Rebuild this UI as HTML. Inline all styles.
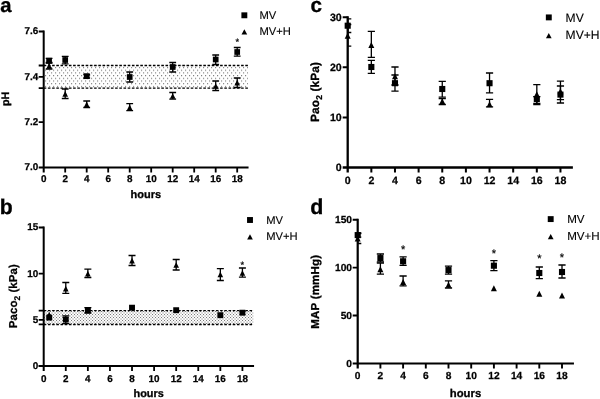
<!DOCTYPE html>
<html lang="en">
<head>
<meta charset="utf-8">
<title>Figure</title>
<style>
html,body{margin:0;padding:0;background:#fff;}
body{width:600px;height:399px;overflow:hidden;}
svg{display:block;will-change:transform;text-rendering:geometricPrecision;font-family:"Liberation Sans", Arial, sans-serif;fill:#000;}
</style>
</head>
<body>
<svg width="600" height="399" viewBox="0 0 600 399">
<rect width="600" height="399" fill="#fff"/>
<defs>
<pattern id="pa" width="4" height="5.4" patternUnits="userSpaceOnUse" x="43" y="66.95"><rect x="0" y="0" width="1.15" height="1.15" fill="#808080"/><rect x="2" y="2.7" width="1.15" height="1.15" fill="#808080"/></pattern>
<pattern id="pb" width="3" height="3" patternUnits="userSpaceOnUse" x="44" y="311"><rect x="0" y="0" width="1.05" height="1.05" fill="#7a7a7a"/><rect x="1.5" y="1.5" width="1.05" height="1.05" fill="#7a7a7a"/></pattern>
</defs>
<rect x="43.70" y="65.50" width="204.25" height="22.67" fill="url(#pa)"/>
<path d="M43.70 65.50H247.95M43.70 88.17H247.95" stroke="#000" stroke-width="1.4" stroke-dasharray="2.6 1.6" fill="none"/>
<path d="M43.70 30.60V172.50M38.70 167.50H248.55" stroke="#000" stroke-width="2.0" fill="none"/>
<path d="M65.20 167.50v5.0M86.70 167.50v5.0M108.20 167.50v5.0M129.70 167.50v5.0M151.20 167.50v5.0M172.70 167.50v5.0M194.20 167.50v5.0M215.70 167.50v5.0M237.20 167.50v5.0M43.70 122.17h-5.0M43.70 76.83h-5.0M43.70 31.50h-5.0M43.70 65.50h-5.0M43.70 88.17h-5.0" stroke="#000" stroke-width="1.8" fill="none"/>
<text x="43.70" y="181.50" font-size="9.9" font-weight="bold" text-anchor="middle" stroke="#000" stroke-width="0.25" >0</text>
<text x="65.20" y="181.50" font-size="9.9" font-weight="bold" text-anchor="middle" stroke="#000" stroke-width="0.25" >2</text>
<text x="86.70" y="181.50" font-size="9.9" font-weight="bold" text-anchor="middle" stroke="#000" stroke-width="0.25" >4</text>
<text x="108.20" y="181.50" font-size="9.9" font-weight="bold" text-anchor="middle" stroke="#000" stroke-width="0.25" >6</text>
<text x="129.70" y="181.50" font-size="9.9" font-weight="bold" text-anchor="middle" stroke="#000" stroke-width="0.25" >8</text>
<text x="151.20" y="181.50" font-size="9.9" font-weight="bold" text-anchor="middle" stroke="#000" stroke-width="0.25" >10</text>
<text x="172.70" y="181.50" font-size="9.9" font-weight="bold" text-anchor="middle" stroke="#000" stroke-width="0.25" >12</text>
<text x="194.20" y="181.50" font-size="9.9" font-weight="bold" text-anchor="middle" stroke="#000" stroke-width="0.25" >14</text>
<text x="215.70" y="181.50" font-size="9.9" font-weight="bold" text-anchor="middle" stroke="#000" stroke-width="0.25" >16</text>
<text x="237.20" y="181.50" font-size="9.9" font-weight="bold" text-anchor="middle" stroke="#000" stroke-width="0.25" >18</text>
<text x="38.30" y="170.34" font-size="9.9" font-weight="bold" text-anchor="end" stroke="#000" stroke-width="0.25" >7.0</text>
<text x="38.30" y="125.01" font-size="9.9" font-weight="bold" text-anchor="end" stroke="#000" stroke-width="0.25" >7.2</text>
<text x="38.30" y="79.68" font-size="9.9" font-weight="bold" text-anchor="end" stroke="#000" stroke-width="0.25" >7.4</text>
<text x="38.30" y="34.34" font-size="9.9" font-weight="bold" text-anchor="end" stroke="#000" stroke-width="0.25" >7.6</text>
<path d="M49.08 58.30V63.20M45.68 58.30H52.48M45.68 63.20H52.48" stroke="#000" stroke-width="1.3" fill="none"/>
<rect x="46.23" y="57.85" width="5.70" height="5.70" fill="#000"/>
<path d="M65.20 56.30V63.80M61.80 56.30H68.60M61.80 63.80H68.60" stroke="#000" stroke-width="1.3" fill="none"/>
<rect x="62.35" y="57.15" width="5.70" height="5.70" fill="#000"/>
<path d="M86.70 74.50V78.00M83.30 74.50H90.10M83.30 78.00H90.10" stroke="#000" stroke-width="1.3" fill="none"/>
<rect x="83.85" y="73.35" width="5.70" height="5.70" fill="#000"/>
<path d="M129.70 72.00V82.00M126.30 72.00H133.10M126.30 82.00H133.10" stroke="#000" stroke-width="1.3" fill="none"/>
<rect x="126.85" y="74.15" width="5.70" height="5.70" fill="#000"/>
<path d="M172.70 62.50V72.00M169.30 62.50H176.10M169.30 72.00H176.10" stroke="#000" stroke-width="1.3" fill="none"/>
<rect x="169.85" y="64.15" width="5.70" height="5.70" fill="#000"/>
<path d="M215.70 55.00V64.50M212.30 55.00H219.10M212.30 64.50H219.10" stroke="#000" stroke-width="1.3" fill="none"/>
<rect x="212.85" y="56.65" width="5.70" height="5.70" fill="#000"/>
<path d="M237.20 47.50V56.20M233.80 47.50H240.60M233.80 56.20H240.60" stroke="#000" stroke-width="1.3" fill="none"/>
<rect x="234.35" y="49.15" width="5.70" height="5.70" fill="#000"/>
<path d="M49.08 62.50V69.00M45.68 62.50H52.48M45.68 69.00H52.48" stroke="#000" stroke-width="1.3" fill="none"/>
<path d="M49.08 62.95L51.88 68.65L46.28 68.65Z" fill="#000"/>
<path d="M65.20 89.00V98.50M61.80 89.00H68.60M61.80 98.50H68.60" stroke="#000" stroke-width="1.3" fill="none"/>
<path d="M65.20 90.95L68.00 96.65L62.40 96.65Z" fill="#000"/>
<path d="M86.70 101.00V107.50M83.30 101.00H90.10M83.30 107.50H90.10" stroke="#000" stroke-width="1.3" fill="none"/>
<path d="M86.70 101.55L89.50 107.25L83.90 107.25Z" fill="#000"/>
<path d="M129.70 103.70V110.60M126.30 103.70H133.10M126.30 110.60H133.10" stroke="#000" stroke-width="1.3" fill="none"/>
<path d="M129.70 104.55L132.50 110.25L126.90 110.25Z" fill="#000"/>
<path d="M172.70 92.50V99.20M169.30 92.50H176.10M169.30 99.20H176.10" stroke="#000" stroke-width="1.3" fill="none"/>
<path d="M172.70 93.15L175.50 98.85L169.90 98.85Z" fill="#000"/>
<path d="M215.70 81.00V90.50M212.30 81.00H219.10M212.30 90.50H219.10" stroke="#000" stroke-width="1.3" fill="none"/>
<path d="M215.70 83.15L218.50 88.85L212.90 88.85Z" fill="#000"/>
<path d="M237.20 78.00V87.50M233.80 78.00H240.60M233.80 87.50H240.60" stroke="#000" stroke-width="1.3" fill="none"/>
<path d="M237.20 79.85L240.00 85.55L234.40 85.55Z" fill="#000"/>
<text x="237.20" y="45.37" font-size="9.3" font-weight="normal" text-anchor="middle" stroke="#000" stroke-width="0.2" >*</text>
<rect x="241.40" y="12.35" width="5.90" height="5.90" fill="#000"/>
<path d="M244.35 29.15L247.20 34.45L241.50 34.45Z" fill="#000"/>
<text x="259.50" y="18.70" font-size="11.2" font-weight="normal" text-anchor="start" stroke="#000" stroke-width="0.12" >MV</text>
<text x="259.50" y="35.20" font-size="11.2" font-weight="normal" text-anchor="start" stroke="#000" stroke-width="0.12" >MV+H</text>
<text x="145.80" y="197.90" font-size="11.0" font-weight="bold" text-anchor="middle" stroke="#000" stroke-width="0.3" >hours</text>
<text x="0.00" y="0.00" font-size="10.8" font-weight="bold" text-anchor="middle" stroke="#000" stroke-width="0.3" transform="translate(9.0 98.8) rotate(-90)">pH</text>
<text x="0.30" y="11.90" font-size="20.3" font-weight="bold" text-anchor="start" stroke="#000" stroke-width="0.3" >a</text>
<rect x="43.70" y="310.60" width="209.76" height="13.85" fill="url(#pb)"/>
<path d="M43.70 310.60H253.46M43.70 324.45H253.46" stroke="#000" stroke-width="1.4" stroke-dasharray="2.6 1.6" fill="none"/>
<path d="M43.70 226.60V371.10M38.70 366.10H254.06" stroke="#000" stroke-width="2.0" fill="none"/>
<path d="M65.78 366.10v5.0M87.86 366.10v5.0M109.94 366.10v5.0M132.02 366.10v5.0M154.10 366.10v5.0M176.18 366.10v5.0M198.26 366.10v5.0M220.34 366.10v5.0M242.42 366.10v5.0M43.70 366.00h-5.0M43.70 319.83h-5.0M43.70 273.67h-5.0M43.70 227.50h-5.0M43.70 310.60h-5.0M43.70 324.45h-5.0" stroke="#000" stroke-width="1.8" fill="none"/>
<text x="43.70" y="381.70" font-size="9.9" font-weight="bold" text-anchor="middle" stroke="#000" stroke-width="0.25" >0</text>
<text x="65.78" y="381.70" font-size="9.9" font-weight="bold" text-anchor="middle" stroke="#000" stroke-width="0.25" >2</text>
<text x="87.86" y="381.70" font-size="9.9" font-weight="bold" text-anchor="middle" stroke="#000" stroke-width="0.25" >4</text>
<text x="109.94" y="381.70" font-size="9.9" font-weight="bold" text-anchor="middle" stroke="#000" stroke-width="0.25" >6</text>
<text x="132.02" y="381.70" font-size="9.9" font-weight="bold" text-anchor="middle" stroke="#000" stroke-width="0.25" >8</text>
<text x="154.10" y="381.70" font-size="9.9" font-weight="bold" text-anchor="middle" stroke="#000" stroke-width="0.25" >10</text>
<text x="176.18" y="381.70" font-size="9.9" font-weight="bold" text-anchor="middle" stroke="#000" stroke-width="0.25" >12</text>
<text x="198.26" y="381.70" font-size="9.9" font-weight="bold" text-anchor="middle" stroke="#000" stroke-width="0.25" >14</text>
<text x="220.34" y="381.70" font-size="9.9" font-weight="bold" text-anchor="middle" stroke="#000" stroke-width="0.25" >16</text>
<text x="242.42" y="381.70" font-size="9.9" font-weight="bold" text-anchor="middle" stroke="#000" stroke-width="0.25" >18</text>
<text x="38.30" y="368.84" font-size="9.9" font-weight="bold" text-anchor="end" stroke="#000" stroke-width="0.25" >0</text>
<text x="38.30" y="322.68" font-size="9.9" font-weight="bold" text-anchor="end" stroke="#000" stroke-width="0.25" >5</text>
<text x="38.30" y="276.51" font-size="9.9" font-weight="bold" text-anchor="end" stroke="#000" stroke-width="0.25" >10</text>
<text x="38.30" y="230.35" font-size="9.9" font-weight="bold" text-anchor="end" stroke="#000" stroke-width="0.25" >15</text>
<rect x="46.27" y="314.65" width="5.90" height="5.90" fill="#000"/>
<path d="M65.78 315.80V323.60M62.28 315.80H69.28M62.28 323.60H69.28" stroke="#000" stroke-width="1.3" fill="none"/>
<rect x="62.83" y="316.65" width="5.90" height="5.90" fill="#000"/>
<path d="M87.86 307.70V313.00M84.36 307.70H91.36M84.36 313.00H91.36" stroke="#000" stroke-width="1.3" fill="none"/>
<rect x="84.91" y="307.25" width="5.90" height="5.90" fill="#000"/>
<rect x="129.07" y="304.75" width="5.90" height="5.90" fill="#000"/>
<rect x="173.23" y="307.25" width="5.90" height="5.90" fill="#000"/>
<rect x="217.39" y="312.25" width="5.90" height="5.90" fill="#000"/>
<rect x="239.47" y="309.75" width="5.90" height="5.90" fill="#000"/>
<path d="M49.22 311.75L52.02 317.45L46.42 317.45Z" fill="#000"/>
<path d="M65.78 282.50V293.30M62.28 282.50H69.28M62.28 293.30H69.28" stroke="#000" stroke-width="1.3" fill="none"/>
<path d="M65.78 285.85L68.58 291.55L62.98 291.55Z" fill="#000"/>
<path d="M87.86 269.20V277.50M84.36 269.20H91.36M84.36 277.50H91.36" stroke="#000" stroke-width="1.3" fill="none"/>
<path d="M87.86 270.85L90.66 276.55L85.06 276.55Z" fill="#000"/>
<path d="M132.02 255.50V265.50M128.52 255.50H135.52M128.52 265.50H135.52" stroke="#000" stroke-width="1.3" fill="none"/>
<path d="M132.02 257.85L134.82 263.55L129.22 263.55Z" fill="#000"/>
<path d="M176.18 259.50V270.00M172.68 259.50H179.68M172.68 270.00H179.68" stroke="#000" stroke-width="1.3" fill="none"/>
<path d="M176.18 262.15L178.98 267.85L173.38 267.85Z" fill="#000"/>
<path d="M220.34 268.70V280.50M216.84 268.70H223.84M216.84 280.50H223.84" stroke="#000" stroke-width="1.3" fill="none"/>
<path d="M220.34 271.65L223.14 277.35L217.54 277.35Z" fill="#000"/>
<path d="M242.42 268.00V277.20M238.92 268.00H245.92M238.92 277.20H245.92" stroke="#000" stroke-width="1.3" fill="none"/>
<path d="M242.42 270.15L245.22 275.85L239.62 275.85Z" fill="#000"/>
<text x="242.42" y="267.57" font-size="9.3" font-weight="normal" text-anchor="middle" stroke="#000" stroke-width="0.2" >*</text>
<rect x="247.05" y="217.05" width="5.90" height="5.90" fill="#000"/>
<path d="M250.00 234.15L252.85 239.45L247.15 239.45Z" fill="#000"/>
<text x="266.20" y="223.90" font-size="11.2" font-weight="normal" text-anchor="start" stroke="#000" stroke-width="0.12" >MV</text>
<text x="266.20" y="240.20" font-size="11.2" font-weight="normal" text-anchor="start" stroke="#000" stroke-width="0.12" >MV+H</text>
<text x="148.70" y="397.30" font-size="10.9" font-weight="bold" text-anchor="middle" stroke="#000" stroke-width="0.3" >hours</text>
<text font-size="11.5" font-weight="bold" text-anchor="middle" stroke="#000" stroke-width="0.25" letter-spacing="0.05" transform="translate(16.8 296.2) rotate(-90)">Paco<tspan font-size="8.3" dy="2.7">2</tspan><tspan dy="-2.7"> (kPa)</tspan></text>
<text x="-0.30" y="214.00" font-size="21.2" font-weight="bold" text-anchor="start" stroke="#000" stroke-width="0.3" >b</text>
<path d="M347.70 16.20V172.50M342.70 167.50H572.88" stroke="#000" stroke-width="2.3" fill="none"/>
<path d="M371.34 167.50v5.0M394.98 167.50v5.0M418.62 167.50v5.0M442.26 167.50v5.0M465.90 167.50v5.0M489.54 167.50v5.0M513.18 167.50v5.0M536.82 167.50v5.0M560.46 167.50v5.0M347.70 117.40h-5.0M347.70 67.30h-5.0M347.70 17.20h-5.0" stroke="#000" stroke-width="2.0" fill="none"/>
<text x="347.70" y="184.20" font-size="10.6" font-weight="bold" text-anchor="middle" stroke="#000" stroke-width="0.25" >0</text>
<text x="371.34" y="184.20" font-size="10.6" font-weight="bold" text-anchor="middle" stroke="#000" stroke-width="0.25" >2</text>
<text x="394.98" y="184.20" font-size="10.6" font-weight="bold" text-anchor="middle" stroke="#000" stroke-width="0.25" >4</text>
<text x="418.62" y="184.20" font-size="10.6" font-weight="bold" text-anchor="middle" stroke="#000" stroke-width="0.25" >6</text>
<text x="442.26" y="184.20" font-size="10.6" font-weight="bold" text-anchor="middle" stroke="#000" stroke-width="0.25" >8</text>
<text x="465.90" y="184.20" font-size="10.6" font-weight="bold" text-anchor="middle" stroke="#000" stroke-width="0.25" >10</text>
<text x="489.54" y="184.20" font-size="10.6" font-weight="bold" text-anchor="middle" stroke="#000" stroke-width="0.25" >12</text>
<text x="513.18" y="184.20" font-size="10.6" font-weight="bold" text-anchor="middle" stroke="#000" stroke-width="0.25" >14</text>
<text x="536.82" y="184.20" font-size="10.6" font-weight="bold" text-anchor="middle" stroke="#000" stroke-width="0.25" >16</text>
<text x="560.46" y="184.20" font-size="10.6" font-weight="bold" text-anchor="middle" stroke="#000" stroke-width="0.25" >18</text>
<text x="341.70" y="171.29" font-size="10.6" font-weight="bold" text-anchor="end" stroke="#000" stroke-width="0.25" >0</text>
<text x="341.70" y="121.19" font-size="10.6" font-weight="bold" text-anchor="end" stroke="#000" stroke-width="0.25" >10</text>
<text x="341.70" y="71.09" font-size="10.6" font-weight="bold" text-anchor="end" stroke="#000" stroke-width="0.25" >20</text>
<text x="341.70" y="20.99" font-size="10.6" font-weight="bold" text-anchor="end" stroke="#000" stroke-width="0.25" >30</text>
<path d="M347.70 18.80V32.50M347.70 18.80H351.30M347.70 32.50H351.30" stroke="#000" stroke-width="1.3" fill="none"/>
<rect x="344.65" y="22.65" width="6.10" height="6.10" fill="#000"/>
<path d="M371.34 60.30V73.40M367.74 60.30H374.94M367.74 73.40H374.94" stroke="#000" stroke-width="1.3" fill="none"/>
<rect x="368.29" y="63.95" width="6.10" height="6.10" fill="#000"/>
<path d="M394.98 75.00V91.20M391.38 75.00H398.58M391.38 91.20H398.58" stroke="#000" stroke-width="1.3" fill="none"/>
<rect x="391.93" y="80.15" width="6.10" height="6.10" fill="#000"/>
<path d="M442.26 81.40V97.20M438.66 81.40H445.86M438.66 97.20H445.86" stroke="#000" stroke-width="1.3" fill="none"/>
<rect x="439.21" y="85.95" width="6.10" height="6.10" fill="#000"/>
<path d="M489.54 73.00V92.80M485.94 73.00H493.14M485.94 92.80H493.14" stroke="#000" stroke-width="1.3" fill="none"/>
<rect x="486.49" y="80.15" width="6.10" height="6.10" fill="#000"/>
<path d="M536.82 96.60V104.70M533.22 96.60H540.42M533.22 104.70H540.42" stroke="#000" stroke-width="1.3" fill="none"/>
<rect x="533.77" y="95.95" width="6.10" height="6.10" fill="#000"/>
<path d="M560.46 86.00V103.00M556.86 86.00H564.06M556.86 103.00H564.06" stroke="#000" stroke-width="1.3" fill="none"/>
<rect x="557.41" y="91.55" width="6.10" height="6.10" fill="#000"/>
<path d="M347.70 24.50V46.20M347.70 24.50H351.30M347.70 46.20H351.30" stroke="#000" stroke-width="1.3" fill="none"/>
<path d="M347.70 32.70L350.70 38.70L344.70 38.70Z" fill="#000"/>
<path d="M371.34 31.30V57.30M367.74 31.30H374.94M367.74 57.30H374.94" stroke="#000" stroke-width="1.3" fill="none"/>
<path d="M371.34 42.00L374.34 48.00L368.34 48.00Z" fill="#000"/>
<path d="M394.98 67.00V85.00M391.38 67.00H398.58M391.38 85.00H398.58" stroke="#000" stroke-width="1.3" fill="none"/>
<path d="M394.98 73.20L397.98 79.20L391.98 79.20Z" fill="#000"/>
<path d="M442.26 98.60V104.50M438.66 98.60H445.86M438.66 104.50H445.86" stroke="#000" stroke-width="1.3" fill="none"/>
<path d="M442.26 98.20L445.26 104.20L439.26 104.20Z" fill="#000"/>
<path d="M489.54 99.30V106.80M485.94 99.30H493.14M485.94 106.80H493.14" stroke="#000" stroke-width="1.3" fill="none"/>
<path d="M489.54 101.20L492.54 107.20L486.54 107.20Z" fill="#000"/>
<path d="M536.82 84.70V103.30M533.22 84.70H540.42M533.22 103.30H540.42" stroke="#000" stroke-width="1.3" fill="none"/>
<path d="M536.82 91.30L539.82 97.30L533.82 97.30Z" fill="#000"/>
<path d="M560.46 81.20V99.60M556.86 81.20H564.06M556.86 99.60H564.06" stroke="#000" stroke-width="1.3" fill="none"/>
<path d="M560.46 88.30L563.46 94.30L557.46 94.30Z" fill="#000"/>
<rect x="545.85" y="14.45" width="5.90" height="5.90" fill="#000"/>
<path d="M548.80 32.95L551.65 38.25L545.95 38.25Z" fill="#000"/>
<text x="565.60" y="21.60" font-size="12.1" font-weight="normal" text-anchor="start" stroke="#000" stroke-width="0.12" >MV</text>
<text x="565.60" y="39.10" font-size="12.1" font-weight="normal" text-anchor="start" stroke="#000" stroke-width="0.12" >MV+H</text>
<text font-size="11.9" font-weight="bold" text-anchor="middle" stroke="#000" stroke-width="0.3" letter-spacing="0.1" transform="translate(318.8 92) rotate(-90)">Pao<tspan font-size="8.5" dy="2.8">2</tspan><tspan dy="-2.8"> (kPa)</tspan></text>
<text x="310.50" y="11.90" font-size="20.8" font-weight="bold" text-anchor="start" stroke="#000" stroke-width="0.3" >c</text>
<path d="M357.70 218.75V368.50M352.70 363.50H573.95" stroke="#000" stroke-width="2.2" fill="none"/>
<path d="M380.40 363.50v5.0M403.10 363.50v5.0M425.80 363.50v5.0M448.50 363.50v5.0M471.20 363.50v5.0M493.90 363.50v5.0M516.60 363.50v5.0M539.30 363.50v5.0M562.00 363.50v5.0M357.70 315.56h-5.0M357.70 267.63h-5.0M357.70 219.69h-5.0" stroke="#000" stroke-width="1.9" fill="none"/>
<text x="357.70" y="379.30" font-size="10.2" font-weight="bold" text-anchor="middle" stroke="#000" stroke-width="0.25" >0</text>
<text x="380.40" y="379.30" font-size="10.2" font-weight="bold" text-anchor="middle" stroke="#000" stroke-width="0.25" >2</text>
<text x="403.10" y="379.30" font-size="10.2" font-weight="bold" text-anchor="middle" stroke="#000" stroke-width="0.25" >4</text>
<text x="425.80" y="379.30" font-size="10.2" font-weight="bold" text-anchor="middle" stroke="#000" stroke-width="0.25" >6</text>
<text x="448.50" y="379.30" font-size="10.2" font-weight="bold" text-anchor="middle" stroke="#000" stroke-width="0.25" >8</text>
<text x="471.20" y="379.30" font-size="10.2" font-weight="bold" text-anchor="middle" stroke="#000" stroke-width="0.25" >10</text>
<text x="493.90" y="379.30" font-size="10.2" font-weight="bold" text-anchor="middle" stroke="#000" stroke-width="0.25" >12</text>
<text x="516.60" y="379.30" font-size="10.2" font-weight="bold" text-anchor="middle" stroke="#000" stroke-width="0.25" >14</text>
<text x="539.30" y="379.30" font-size="10.2" font-weight="bold" text-anchor="middle" stroke="#000" stroke-width="0.25" >16</text>
<text x="562.00" y="379.30" font-size="10.2" font-weight="bold" text-anchor="middle" stroke="#000" stroke-width="0.25" >18</text>
<text x="352.00" y="367.15" font-size="10.2" font-weight="bold" text-anchor="end" stroke="#000" stroke-width="0.25" >0</text>
<text x="352.00" y="319.22" font-size="10.2" font-weight="bold" text-anchor="end" stroke="#000" stroke-width="0.25" >50</text>
<text x="352.00" y="271.28" font-size="10.2" font-weight="bold" text-anchor="end" stroke="#000" stroke-width="0.25" >100</text>
<text x="352.00" y="223.35" font-size="10.2" font-weight="bold" text-anchor="end" stroke="#000" stroke-width="0.25" >150</text>
<path d="M357.70 233.00V237.20M357.70 233.00H361.30M357.70 237.20H361.30" stroke="#000" stroke-width="1.3" fill="none"/>
<rect x="354.65" y="232.05" width="6.10" height="6.10" fill="#000"/>
<path d="M380.40 254.00V262.00M376.80 254.00H384.00M376.80 262.00H384.00" stroke="#000" stroke-width="1.3" fill="none"/>
<rect x="377.35" y="255.05" width="6.10" height="6.10" fill="#000"/>
<path d="M403.10 256.80V265.30M399.50 256.80H406.70M399.50 265.30H406.70" stroke="#000" stroke-width="1.3" fill="none"/>
<rect x="400.05" y="258.25" width="6.10" height="6.10" fill="#000"/>
<path d="M448.50 266.10V274.10M444.90 266.10H452.10M444.90 274.10H452.10" stroke="#000" stroke-width="1.3" fill="none"/>
<rect x="445.45" y="267.05" width="6.10" height="6.10" fill="#000"/>
<path d="M493.90 260.60V270.60M490.30 260.60H497.50M490.30 270.60H497.50" stroke="#000" stroke-width="1.3" fill="none"/>
<rect x="490.85" y="262.65" width="6.10" height="6.10" fill="#000"/>
<path d="M539.30 267.00V278.70M535.70 267.00H542.90M535.70 278.70H542.90" stroke="#000" stroke-width="1.3" fill="none"/>
<rect x="536.25" y="269.95" width="6.10" height="6.10" fill="#000"/>
<path d="M562.00 265.00V278.00M558.40 265.00H565.60M558.40 278.00H565.60" stroke="#000" stroke-width="1.3" fill="none"/>
<rect x="558.95" y="268.95" width="6.10" height="6.10" fill="#000"/>
<path d="M357.70 233.50V243.50M357.70 233.50H361.30M357.70 243.50H361.30" stroke="#000" stroke-width="1.3" fill="none"/>
<path d="M357.70 235.50L360.70 241.50L354.70 241.50Z" fill="#000"/>
<path d="M380.40 263.20V274.10M376.80 263.20H384.00M376.80 274.10H384.00" stroke="#000" stroke-width="1.3" fill="none"/>
<path d="M380.40 266.30L383.40 272.30L377.40 272.30Z" fill="#000"/>
<path d="M403.10 276.00V285.90M399.50 276.00H406.70M399.50 285.90H406.70" stroke="#000" stroke-width="1.3" fill="none"/>
<path d="M403.10 278.90L406.10 284.90L400.10 284.90Z" fill="#000"/>
<path d="M448.50 280.80V288.00M444.90 280.80H452.10M444.90 288.00H452.10" stroke="#000" stroke-width="1.3" fill="none"/>
<path d="M448.50 281.80L451.50 287.80L445.50 287.80Z" fill="#000"/>
<path d="M493.90 285.30L496.90 291.30L490.90 291.30Z" fill="#000"/>
<path d="M539.30 290.70L542.30 296.70L536.30 296.70Z" fill="#000"/>
<path d="M562.00 292.50L565.00 298.50L559.00 298.50Z" fill="#000"/>
<text x="403.10" y="252.69" font-size="11" font-weight="normal" text-anchor="middle" stroke="#000" stroke-width="0.2" >*</text>
<text x="493.90" y="256.50" font-size="11" font-weight="normal" text-anchor="middle" stroke="#000" stroke-width="0.2" >*</text>
<text x="539.30" y="262.19" font-size="11" font-weight="normal" text-anchor="middle" stroke="#000" stroke-width="0.2" >*</text>
<text x="562.00" y="261.00" font-size="11" font-weight="normal" text-anchor="middle" stroke="#000" stroke-width="0.2" >*</text>
<rect x="547.75" y="216.15" width="5.90" height="5.90" fill="#000"/>
<path d="M550.70 233.95L553.55 239.25L547.85 239.25Z" fill="#000"/>
<text x="567.20" y="223.30" font-size="11.6" font-weight="normal" text-anchor="start" stroke="#000" stroke-width="0.12" >MV</text>
<text x="567.20" y="240.40" font-size="11.6" font-weight="normal" text-anchor="start" stroke="#000" stroke-width="0.12" >MV+H</text>
<text x="465.50" y="397.10" font-size="11.3" font-weight="bold" text-anchor="middle" stroke="#000" stroke-width="0.3" >hours</text>
<text x="0.00" y="0.00" font-size="11.5" font-weight="bold" text-anchor="middle" stroke="#000" stroke-width="0.3" letter-spacing="0.2" transform="translate(319.3 291.7) rotate(-90)">MAP (mmHg)</text>
<text x="310.20" y="214.00" font-size="21.4" font-weight="bold" text-anchor="start" stroke="#000" stroke-width="0.3" >d</text>
</svg>
</body>
</html>
